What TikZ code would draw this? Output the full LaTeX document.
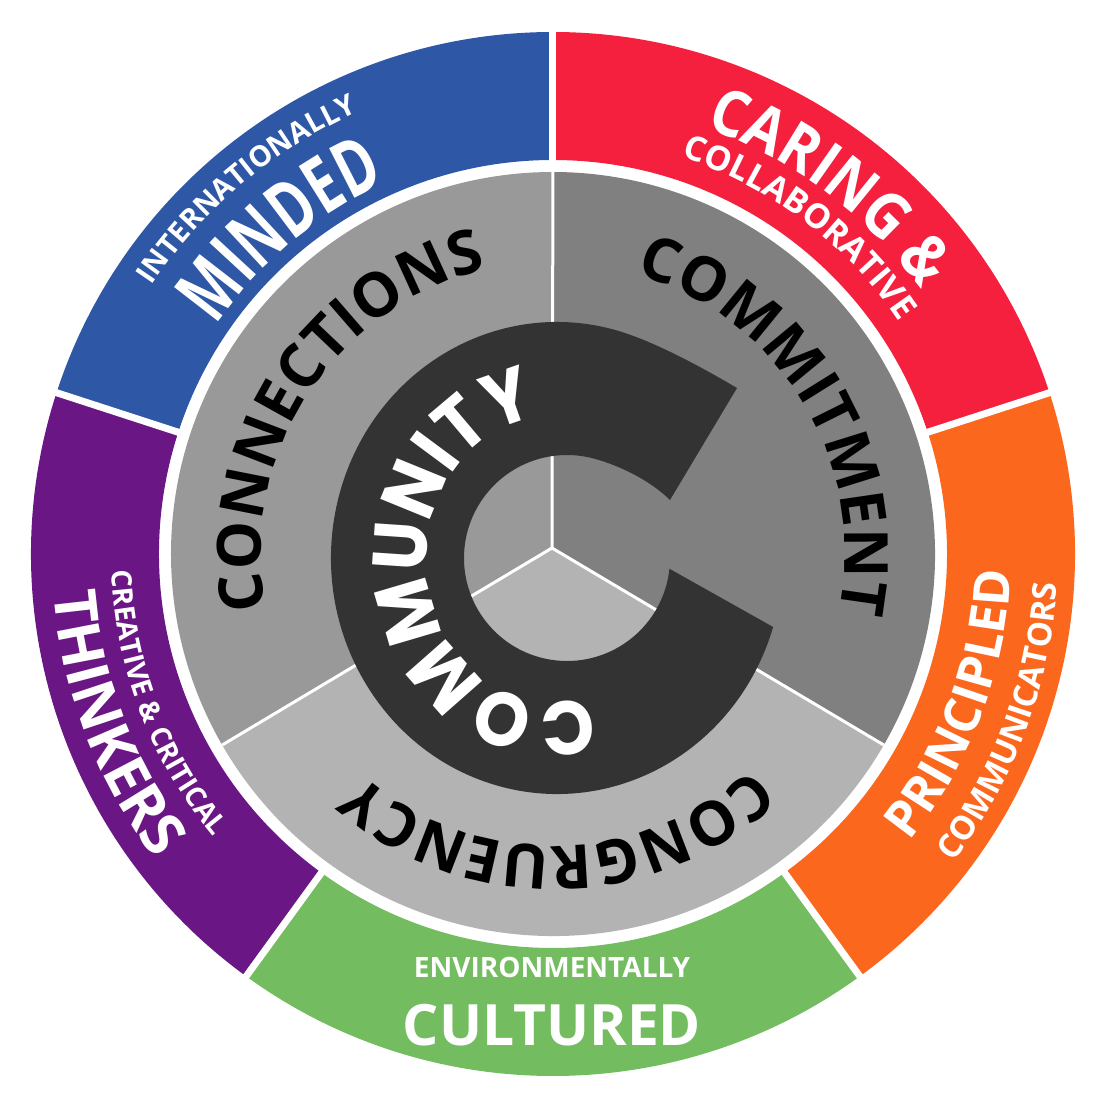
\documentclass[tikz,border=0pt]{standalone}
\usepackage{fontspec}
\usetikzlibrary{decorations.text}

\newfontfamily\osans{Open Sans}
\newfontfamily\osansmind{Open Sans}[FakeStretch=0.7]
\newfontfamily\osanscare{Open Sans}[FakeStretch=0.88]
\newfontfamily\popfont{Poppins}[FakeStretch=0.92]

\definecolor{caringred}{RGB}{245,32,62}
\definecolor{mindedblue}{RGB}{46,88,166}
\definecolor{thinkpurple}{RGB}{106,22,133}
\definecolor{culturegreen}{RGB}{116,188,96}
\definecolor{principorange}{RGB}{252,103,30}
\definecolor{connectgray}{RGB}{153,153,153}
\definecolor{commitgray}{RGB}{128,128,128}
\definecolor{congrugray}{RGB}{179,179,179}
\definecolor{commdark}{RGB}{51,51,51}

\newcommand\ringfont[1]{\osans\bfseries\fontsize{#1}{#1}\selectfont\color{white}}
\newcommand\grayfont{\osans\bfseries\fontsize{61}{61}\selectfont\color{black}}
\newcommand\commfont{\popfont\bfseries\fontsize{76}{76}\selectfont\color{white}}

\tikzset{
  arc text/.style={decorate, decoration={text along path, text align=center, text={#1}}}
}

\begin{document}
\begin{tikzpicture}[x=1pt, y=1pt]
\useasboundingbox (-553,-563) rectangle (543,554);

\foreach \a/\col in {18/caringred, 90/mindedblue, 162/thinkpurple, 234/culturegreen, 306/principorange}
  \fill[\col] (\a:394) arc[start angle=\a, end angle=\a+72, radius=394] -- (\a+72:522) arc[start angle=\a+72, end angle=\a, radius=522] -- cycle;
\foreach \a in {18,90,162,234,306}
  \draw[white, line width=7] (\a:390) -- (\a:530);

\coordinate (hub) at (-1,6);
\foreach \a/\col in {90/connectgray, 210/congrugray, 330/commitgray}
  \fill[\col] (hub) -- (\a:382) arc[start angle=\a, end angle=\a+120, radius=382] -- cycle;
\foreach \a in {90,210,330}
  \draw[white, line width=3] (hub) -- (\a:382);

\fill[commdark] (184,166) .. controls (150,186) and (101,213) .. ([shift={(4,-4)}]75:226 and 236)
  arc[start angle=75, end angle=343, x radius=226, y radius=236]
  -- ([shift={(14,-4)}]-6:103) arc[start angle=-6, end angle=-285, radius=103]
  .. controls (69.7,87.7) and (99.5,71.5) .. (117,54) -- cycle;

\path[arc text={|\grayfont|CONNECTIONS}] (207:292) arc[start angle=207, end angle=87, radius=292];
\path[arc text={|\grayfont|COMMITMENT}] (91:292) arc[start angle=91, end angle=-29, radius=292];
\path[arc text={|\grayfont|CONGRUENCY}] (331:292) arc[start angle=331, end angle=211, radius=292];
\path[arc text={|\commfont|COMMUNITY}] ([shift={(0,-5)}]298:126 and 143) arc[start angle=298, end angle=86, x radius=126, y radius=143];

\path[arc text={|\ringfont{29}|INTERNATIONALLY}] (170:483) arc[start angle=170, end angle=90, radius=483];
\path[arc text={|\osansmind\bfseries\fontsize{78}{78}\selectfont\color{white}|MINDED}] (170:407) arc[start angle=170, end angle=90, radius=407];
\path[arc text={|\osanscare\bfseries\fontsize{64}{64}\selectfont\color{white}|CARING {\&}}] (93:453) arc[start angle=93, end angle=13, radius=453];
\path[arc text={|\ringfont{34}|COLLABORATIVE}] (93:417) arc[start angle=93, end angle=13, radius=417];
\path[arc text={|\ringfont{50}|PRINCIPLED}] (-60.5:458) arc[start angle=-60.5, end angle=19.5, radius=458];
\path[arc text={|\ringfont{33}|COMMUNICATORS}] (-60.5:505) arc[start angle=-60.5, end angle=19.5, radius=505];
\path[arc text={|\ringfont{28}|CREATIVE {\&} CRITICAL}] (161:442) arc[start angle=161, end angle=241, radius=442];
\path[arc text={|\ringfont{59}|THINKERS}] (161:501) arc[start angle=161, end angle=241, radius=501];

\node[anchor=base, text=white, font=\osans\bfseries\fontsize{28}{28}\selectfont] (envtext) at (-1,-423) {ENVIRONMENTALLY};
\node[anchor=base, text=white, font=\osans\bfseries\fontsize{57}{57}\selectfont] (culttext) at (-1,-491) {CULTURED};
\end{tikzpicture}
\end{document}
